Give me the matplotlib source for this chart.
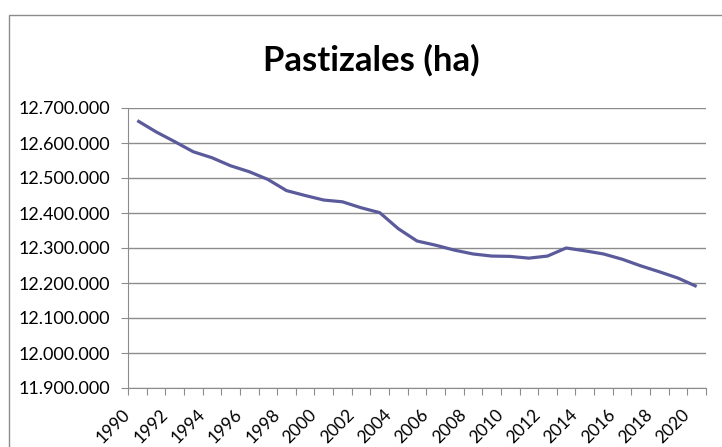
import matplotlib
matplotlib.use("Agg")
from matplotlib import pyplot as plt
from matplotlib.patches import Rectangle
from matplotlib.ticker import FuncFormatter, FixedLocator

# pasture area per year (ha)
years = list(range(1990, 2021))
pastizales = [
    12664000, 12632000, 12604000, 12575000, 12558000, 12535000, 12518000,
    12496000, 12464000, 12450000, 12437000, 12432000, 12415000, 12401000,
    12355000, 12320000, 12308000, 12294000, 12283000, 12277000, 12276000,
    12271000, 12277000, 12300000, 12292000, 12283000, 12268000, 12249000,
    12232000, 12214000, 12190000,
]
title = "Pastizales (ha)"

W, H = 722, 447
plt.rcParams["font.family"] = ["Lato", "DejaVu Sans"]

fig = plt.figure(figsize=(W / 100, H / 100), dpi=100)
# outer chart frame (cropped on right/bottom like the original)
fig.add_artist(Rectangle((9 / W, -0.1), 1.2, 1 - 15 / H + 0.1,
                         transform=fig.transFigure, fill=False,
                         edgecolor="#8c8c8c", linewidth=1.0))

ax = fig.add_axes([128 / W, 1 - 388 / H, (706 - 128) / W, (388 - 108) / H])
x = list(range(len(years)))
ax.plot(x, pastizales, color="#5b5b9c", linewidth=2.3, solid_capstyle="butt")

ax.set_xlim(-0.5, len(years) - 0.5)
ax.set_ylim(11900000, 12700000)
ax.set_yticks(range(11900000, 12700001, 100000))
ax.yaxis.set_major_formatter(FuncFormatter(lambda v, p: f"{int(v):,}".replace(",", ".")))
ax.grid(axis="y", color="#8c8c8c", linewidth=1.0)
ax.set_axisbelow(True)

# tick marks on category boundaries, labels every other year
ax.xaxis.set_major_locator(FixedLocator([i - 0.5 for i in range(len(years) + 1)]))
ax.xaxis.set_major_formatter(FuncFormatter(lambda v, p: ""))
ax.tick_params(axis="x", length=5, color="#8c8c8c", direction="out")
ax.tick_params(axis="y", length=5, color="#8c8c8c", direction="out",
               labelsize=13, pad=8)
for i, yr in enumerate(years):
    if yr % 2 == 0:
        ax.text(i - 0.5, -0.087, str(yr), transform=ax.get_xaxis_transform(),
                rotation=45, ha="right", va="center", rotation_mode="anchor",
                fontsize=12.5)

for side in ["top", "right"]:
    ax.spines[side].set_visible(False)
for side in ["left", "bottom"]:
    ax.spines[side].set_color("#8c8c8c")

fig.text(371 / W, 1 - 60 / H, title, ha="center", va="center",
         fontsize=25, fontweight="bold")

fig.savefig("out.png", dpi=100)
